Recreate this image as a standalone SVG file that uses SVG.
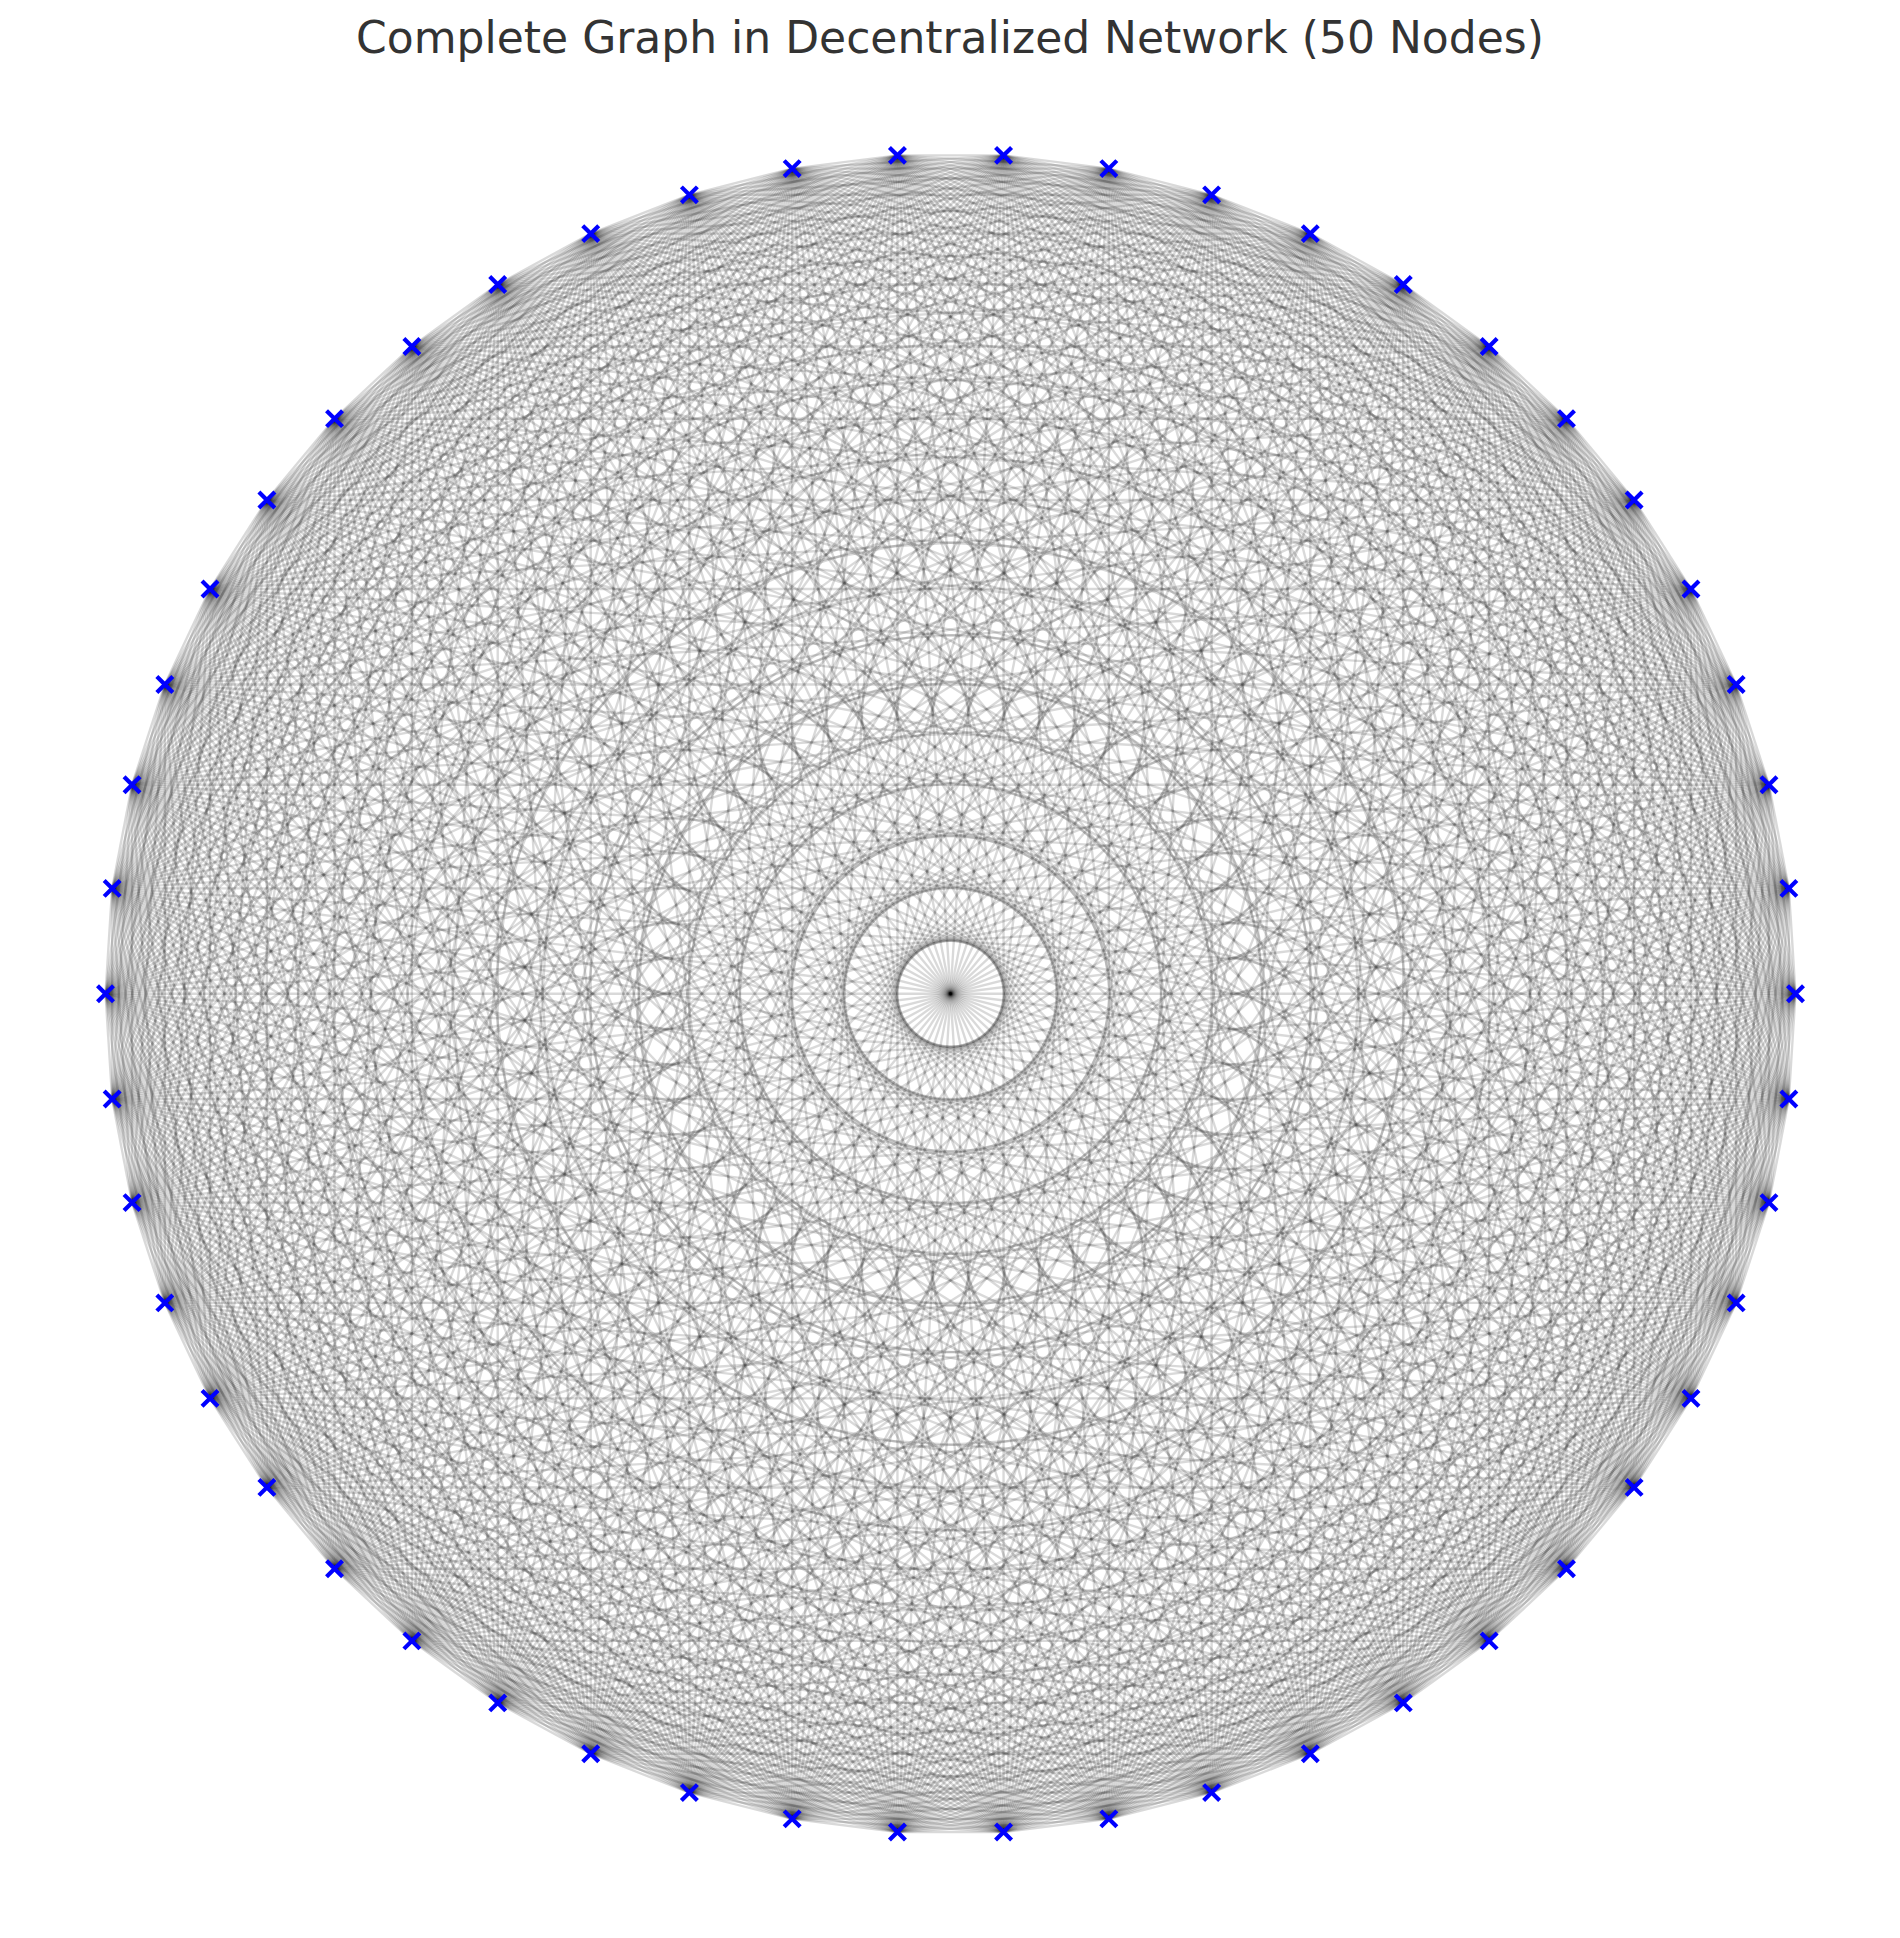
<svg xmlns="http://www.w3.org/2000/svg" xmlns:xlink="http://www.w3.org/1999/xlink" width="1900" height="1938" viewBox="0 0 1900 1938">
<style>
.edge{stroke:#000000;stroke-opacity:0.15;stroke-width:2.4;fill:none}
.mk{stroke:#0000ff;stroke-width:4.2;fill:none}
.title{font-family:"DejaVu Sans",sans-serif;font-size:44px;fill:#333333}
</style>
<defs>
<g id="fan" class="edge">
<line x1="845" y1="0" x2="838.34" y2="105.91"/>
<line x1="845" y1="0" x2="818.45" y2="210.14"/>
<line x1="845" y1="0" x2="785.66" y2="311.07"/>
<line x1="845" y1="0" x2="740.48" y2="407.08"/>
<line x1="845" y1="0" x2="683.62" y2="496.68"/>
<line x1="845" y1="0" x2="615.98" y2="578.44"/>
<line x1="845" y1="0" x2="538.62" y2="651.08"/>
<line x1="845" y1="0" x2="452.77" y2="713.46"/>
<line x1="845" y1="0" x2="359.78" y2="764.58"/>
<line x1="845" y1="0" x2="261.12" y2="803.64"/>
<line x1="845" y1="0" x2="158.34" y2="830.03"/>
<line x1="845" y1="0" x2="53.06" y2="843.33"/>
<line x1="845" y1="0" x2="-53.06" y2="843.33"/>
<line x1="845" y1="0" x2="-158.34" y2="830.03"/>
<line x1="845" y1="0" x2="-261.12" y2="803.64"/>
<line x1="845" y1="0" x2="-359.78" y2="764.58"/>
<line x1="845" y1="0" x2="-452.77" y2="713.46"/>
<line x1="845" y1="0" x2="-538.62" y2="651.08"/>
<line x1="845" y1="0" x2="-615.98" y2="578.44"/>
<line x1="845" y1="0" x2="-683.62" y2="496.68"/>
<line x1="845" y1="0" x2="-740.48" y2="407.08"/>
<line x1="845" y1="0" x2="-785.66" y2="311.07"/>
<line x1="845" y1="0" x2="-818.45" y2="210.14"/>
<line x1="845" y1="0" x2="-838.34" y2="105.91"/>
</g>
<line id="dia" class="edge" x1="845" y1="0" x2="-845" y2="0"/>
<path id="xm" class="mk" d="M-8,-8L8,8M-8,8L8,-8"/>
</defs>
<rect width="1900" height="1938" fill="#ffffff"/>
<text class="title" x="950" y="53" text-anchor="middle">Complete Graph in Decentralized Network (50 Nodes)</text>
<g transform="translate(950.5,993.7) scale(1,0.99408)">
<g id="edges">
<use xlink:href="#fan" href="#fan" transform="rotate(0)"/>
<use xlink:href="#fan" href="#fan" transform="rotate(7.2)"/>
<use xlink:href="#fan" href="#fan" transform="rotate(14.4)"/>
<use xlink:href="#fan" href="#fan" transform="rotate(21.6)"/>
<use xlink:href="#fan" href="#fan" transform="rotate(28.8)"/>
<use xlink:href="#fan" href="#fan" transform="rotate(36)"/>
<use xlink:href="#fan" href="#fan" transform="rotate(43.2)"/>
<use xlink:href="#fan" href="#fan" transform="rotate(50.4)"/>
<use xlink:href="#fan" href="#fan" transform="rotate(57.6)"/>
<use xlink:href="#fan" href="#fan" transform="rotate(64.8)"/>
<use xlink:href="#fan" href="#fan" transform="rotate(72)"/>
<use xlink:href="#fan" href="#fan" transform="rotate(79.2)"/>
<use xlink:href="#fan" href="#fan" transform="rotate(86.4)"/>
<use xlink:href="#fan" href="#fan" transform="rotate(93.6)"/>
<use xlink:href="#fan" href="#fan" transform="rotate(100.8)"/>
<use xlink:href="#fan" href="#fan" transform="rotate(108)"/>
<use xlink:href="#fan" href="#fan" transform="rotate(115.2)"/>
<use xlink:href="#fan" href="#fan" transform="rotate(122.4)"/>
<use xlink:href="#fan" href="#fan" transform="rotate(129.6)"/>
<use xlink:href="#fan" href="#fan" transform="rotate(136.8)"/>
<use xlink:href="#fan" href="#fan" transform="rotate(144)"/>
<use xlink:href="#fan" href="#fan" transform="rotate(151.2)"/>
<use xlink:href="#fan" href="#fan" transform="rotate(158.4)"/>
<use xlink:href="#fan" href="#fan" transform="rotate(165.6)"/>
<use xlink:href="#fan" href="#fan" transform="rotate(172.8)"/>
<use xlink:href="#fan" href="#fan" transform="rotate(180)"/>
<use xlink:href="#fan" href="#fan" transform="rotate(187.2)"/>
<use xlink:href="#fan" href="#fan" transform="rotate(194.4)"/>
<use xlink:href="#fan" href="#fan" transform="rotate(201.6)"/>
<use xlink:href="#fan" href="#fan" transform="rotate(208.8)"/>
<use xlink:href="#fan" href="#fan" transform="rotate(216)"/>
<use xlink:href="#fan" href="#fan" transform="rotate(223.2)"/>
<use xlink:href="#fan" href="#fan" transform="rotate(230.4)"/>
<use xlink:href="#fan" href="#fan" transform="rotate(237.6)"/>
<use xlink:href="#fan" href="#fan" transform="rotate(244.8)"/>
<use xlink:href="#fan" href="#fan" transform="rotate(252)"/>
<use xlink:href="#fan" href="#fan" transform="rotate(259.2)"/>
<use xlink:href="#fan" href="#fan" transform="rotate(266.4)"/>
<use xlink:href="#fan" href="#fan" transform="rotate(273.6)"/>
<use xlink:href="#fan" href="#fan" transform="rotate(280.8)"/>
<use xlink:href="#fan" href="#fan" transform="rotate(288)"/>
<use xlink:href="#fan" href="#fan" transform="rotate(295.2)"/>
<use xlink:href="#fan" href="#fan" transform="rotate(302.4)"/>
<use xlink:href="#fan" href="#fan" transform="rotate(309.6)"/>
<use xlink:href="#fan" href="#fan" transform="rotate(316.8)"/>
<use xlink:href="#fan" href="#fan" transform="rotate(324)"/>
<use xlink:href="#fan" href="#fan" transform="rotate(331.2)"/>
<use xlink:href="#fan" href="#fan" transform="rotate(338.4)"/>
<use xlink:href="#fan" href="#fan" transform="rotate(345.6)"/>
<use xlink:href="#fan" href="#fan" transform="rotate(352.8)"/>
<use xlink:href="#dia" href="#dia" transform="rotate(0)"/>
<use xlink:href="#dia" href="#dia" transform="rotate(7.2)"/>
<use xlink:href="#dia" href="#dia" transform="rotate(14.4)"/>
<use xlink:href="#dia" href="#dia" transform="rotate(21.6)"/>
<use xlink:href="#dia" href="#dia" transform="rotate(28.8)"/>
<use xlink:href="#dia" href="#dia" transform="rotate(36)"/>
<use xlink:href="#dia" href="#dia" transform="rotate(43.2)"/>
<use xlink:href="#dia" href="#dia" transform="rotate(50.4)"/>
<use xlink:href="#dia" href="#dia" transform="rotate(57.6)"/>
<use xlink:href="#dia" href="#dia" transform="rotate(64.8)"/>
<use xlink:href="#dia" href="#dia" transform="rotate(72)"/>
<use xlink:href="#dia" href="#dia" transform="rotate(79.2)"/>
<use xlink:href="#dia" href="#dia" transform="rotate(86.4)"/>
<use xlink:href="#dia" href="#dia" transform="rotate(93.6)"/>
<use xlink:href="#dia" href="#dia" transform="rotate(100.8)"/>
<use xlink:href="#dia" href="#dia" transform="rotate(108)"/>
<use xlink:href="#dia" href="#dia" transform="rotate(115.2)"/>
<use xlink:href="#dia" href="#dia" transform="rotate(122.4)"/>
<use xlink:href="#dia" href="#dia" transform="rotate(129.6)"/>
<use xlink:href="#dia" href="#dia" transform="rotate(136.8)"/>
<use xlink:href="#dia" href="#dia" transform="rotate(144)"/>
<use xlink:href="#dia" href="#dia" transform="rotate(151.2)"/>
<use xlink:href="#dia" href="#dia" transform="rotate(158.4)"/>
<use xlink:href="#dia" href="#dia" transform="rotate(165.6)"/>
<use xlink:href="#dia" href="#dia" transform="rotate(172.8)"/>
</g>
<g id="nodes">
<g id="node0"><use xlink:href="#xm" href="#xm" transform="rotate(0) translate(845,0) rotate(0)"/></g>
<g id="node1"><use xlink:href="#xm" href="#xm" transform="rotate(7.2) translate(845,0) rotate(-7.2)"/></g>
<g id="node2"><use xlink:href="#xm" href="#xm" transform="rotate(14.4) translate(845,0) rotate(-14.4)"/></g>
<g id="node3"><use xlink:href="#xm" href="#xm" transform="rotate(21.6) translate(845,0) rotate(-21.6)"/></g>
<g id="node4"><use xlink:href="#xm" href="#xm" transform="rotate(28.8) translate(845,0) rotate(-28.8)"/></g>
<g id="node5"><use xlink:href="#xm" href="#xm" transform="rotate(36) translate(845,0) rotate(-36)"/></g>
<g id="node6"><use xlink:href="#xm" href="#xm" transform="rotate(43.2) translate(845,0) rotate(-43.2)"/></g>
<g id="node7"><use xlink:href="#xm" href="#xm" transform="rotate(50.4) translate(845,0) rotate(-50.4)"/></g>
<g id="node8"><use xlink:href="#xm" href="#xm" transform="rotate(57.6) translate(845,0) rotate(-57.6)"/></g>
<g id="node9"><use xlink:href="#xm" href="#xm" transform="rotate(64.8) translate(845,0) rotate(-64.8)"/></g>
<g id="node10"><use xlink:href="#xm" href="#xm" transform="rotate(72) translate(845,0) rotate(-72)"/></g>
<g id="node11"><use xlink:href="#xm" href="#xm" transform="rotate(79.2) translate(845,0) rotate(-79.2)"/></g>
<g id="node12"><use xlink:href="#xm" href="#xm" transform="rotate(86.4) translate(845,0) rotate(-86.4)"/></g>
<g id="node13"><use xlink:href="#xm" href="#xm" transform="rotate(93.6) translate(845,0) rotate(-93.6)"/></g>
<g id="node14"><use xlink:href="#xm" href="#xm" transform="rotate(100.8) translate(845,0) rotate(-100.8)"/></g>
<g id="node15"><use xlink:href="#xm" href="#xm" transform="rotate(108) translate(845,0) rotate(-108)"/></g>
<g id="node16"><use xlink:href="#xm" href="#xm" transform="rotate(115.2) translate(845,0) rotate(-115.2)"/></g>
<g id="node17"><use xlink:href="#xm" href="#xm" transform="rotate(122.4) translate(845,0) rotate(-122.4)"/></g>
<g id="node18"><use xlink:href="#xm" href="#xm" transform="rotate(129.6) translate(845,0) rotate(-129.6)"/></g>
<g id="node19"><use xlink:href="#xm" href="#xm" transform="rotate(136.8) translate(845,0) rotate(-136.8)"/></g>
<g id="node20"><use xlink:href="#xm" href="#xm" transform="rotate(144) translate(845,0) rotate(-144)"/></g>
<g id="node21"><use xlink:href="#xm" href="#xm" transform="rotate(151.2) translate(845,0) rotate(-151.2)"/></g>
<g id="node22"><use xlink:href="#xm" href="#xm" transform="rotate(158.4) translate(845,0) rotate(-158.4)"/></g>
<g id="node23"><use xlink:href="#xm" href="#xm" transform="rotate(165.6) translate(845,0) rotate(-165.6)"/></g>
<g id="node24"><use xlink:href="#xm" href="#xm" transform="rotate(172.8) translate(845,0) rotate(-172.8)"/></g>
<g id="node25"><use xlink:href="#xm" href="#xm" transform="rotate(180) translate(845,0) rotate(-180)"/></g>
<g id="node26"><use xlink:href="#xm" href="#xm" transform="rotate(187.2) translate(845,0) rotate(-187.2)"/></g>
<g id="node27"><use xlink:href="#xm" href="#xm" transform="rotate(194.4) translate(845,0) rotate(-194.4)"/></g>
<g id="node28"><use xlink:href="#xm" href="#xm" transform="rotate(201.6) translate(845,0) rotate(-201.6)"/></g>
<g id="node29"><use xlink:href="#xm" href="#xm" transform="rotate(208.8) translate(845,0) rotate(-208.8)"/></g>
<g id="node30"><use xlink:href="#xm" href="#xm" transform="rotate(216) translate(845,0) rotate(-216)"/></g>
<g id="node31"><use xlink:href="#xm" href="#xm" transform="rotate(223.2) translate(845,0) rotate(-223.2)"/></g>
<g id="node32"><use xlink:href="#xm" href="#xm" transform="rotate(230.4) translate(845,0) rotate(-230.4)"/></g>
<g id="node33"><use xlink:href="#xm" href="#xm" transform="rotate(237.6) translate(845,0) rotate(-237.6)"/></g>
<g id="node34"><use xlink:href="#xm" href="#xm" transform="rotate(244.8) translate(845,0) rotate(-244.8)"/></g>
<g id="node35"><use xlink:href="#xm" href="#xm" transform="rotate(252) translate(845,0) rotate(-252)"/></g>
<g id="node36"><use xlink:href="#xm" href="#xm" transform="rotate(259.2) translate(845,0) rotate(-259.2)"/></g>
<g id="node37"><use xlink:href="#xm" href="#xm" transform="rotate(266.4) translate(845,0) rotate(-266.4)"/></g>
<g id="node38"><use xlink:href="#xm" href="#xm" transform="rotate(273.6) translate(845,0) rotate(-273.6)"/></g>
<g id="node39"><use xlink:href="#xm" href="#xm" transform="rotate(280.8) translate(845,0) rotate(-280.8)"/></g>
<g id="node40"><use xlink:href="#xm" href="#xm" transform="rotate(288) translate(845,0) rotate(-288)"/></g>
<g id="node41"><use xlink:href="#xm" href="#xm" transform="rotate(295.2) translate(845,0) rotate(-295.2)"/></g>
<g id="node42"><use xlink:href="#xm" href="#xm" transform="rotate(302.4) translate(845,0) rotate(-302.4)"/></g>
<g id="node43"><use xlink:href="#xm" href="#xm" transform="rotate(309.6) translate(845,0) rotate(-309.6)"/></g>
<g id="node44"><use xlink:href="#xm" href="#xm" transform="rotate(316.8) translate(845,0) rotate(-316.8)"/></g>
<g id="node45"><use xlink:href="#xm" href="#xm" transform="rotate(324) translate(845,0) rotate(-324)"/></g>
<g id="node46"><use xlink:href="#xm" href="#xm" transform="rotate(331.2) translate(845,0) rotate(-331.2)"/></g>
<g id="node47"><use xlink:href="#xm" href="#xm" transform="rotate(338.4) translate(845,0) rotate(-338.4)"/></g>
<g id="node48"><use xlink:href="#xm" href="#xm" transform="rotate(345.6) translate(845,0) rotate(-345.6)"/></g>
<g id="node49"><use xlink:href="#xm" href="#xm" transform="rotate(352.8) translate(845,0) rotate(-352.8)"/></g>
</g>
</g>
</svg>
